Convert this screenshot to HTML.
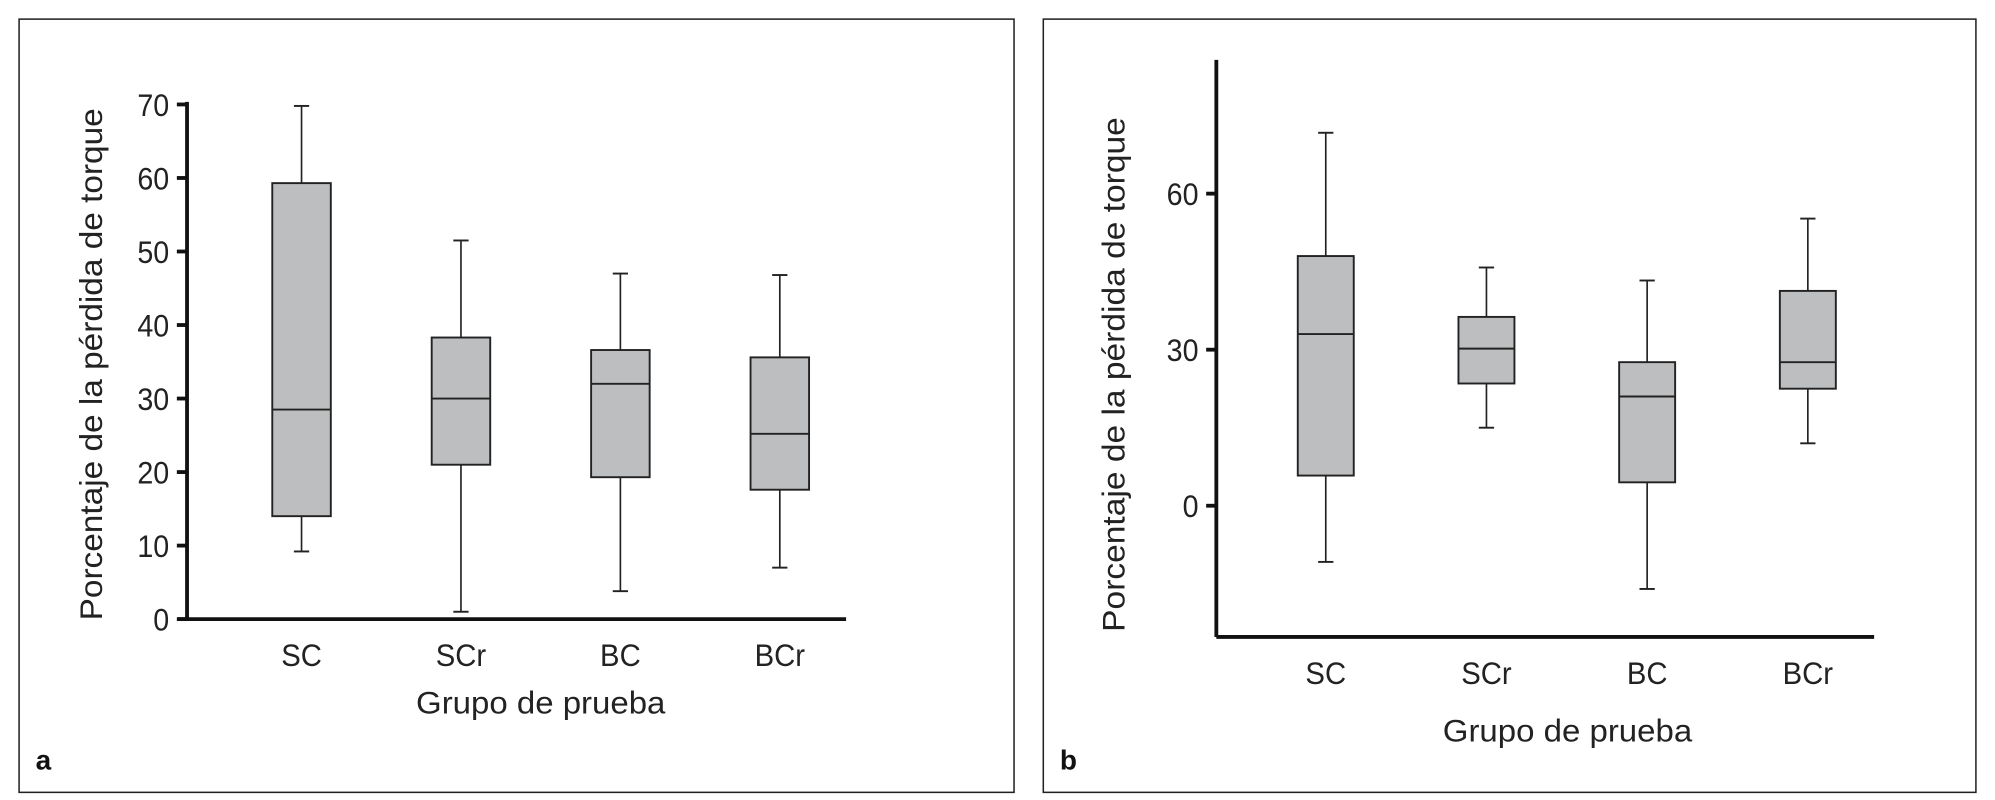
<!DOCTYPE html>
<html><head><meta charset="utf-8"><style>
html,body{margin:0;padding:0;background:#fff;}
svg{display:block;font-family:"Liberation Sans",sans-serif;}
</style></head><body>
<svg id="chart" width="1995" height="800" viewBox="0 0 1568 628" preserveAspectRatio="none" xmlns="http://www.w3.org/2000/svg">
<rect x="15" y="15" width="782" height="607" fill="#fff" stroke="#222" stroke-width="1.2"/>
<rect x="820" y="15" width="733" height="607" fill="#fff" stroke="#222" stroke-width="1.2"/>
<g id="ga"></g>
<g id="gb"></g>
</svg>
<script>
const categories = ["SC","SCr","BC","BCr"];
const aMin = [9.2, 1, 3.8, 7];
const aQ1 = [14, 21, 19.3, 17.6];
const aMed = [28.5, 30, 32, 25.2];
const aQ3 = [59.3, 38.3, 36.6, 35.6];
const aMax = [69.8, 51.5, 47, 46.8];
const aTicks = [0,10,20,30,40,50,60,70];
const bMin = [-10.8, 15, -16, 12];
const bQ1 = [5.8, 23.5, 4.5, 22.5];
const bMed = [33, 30.2, 21, 27.6];
const bQ3 = [48, 36.3, 27.6, 41.3];
const bMax = [71.7, 45.8, 43.3, 55.2];
const bTicks = [0,30,60];
const NS="http://www.w3.org/2000/svg";
function mk(parent,tag,attrs,text){const e=document.createElementNS(NS,tag);for(const k in attrs)e.setAttribute(k,attrs[k]);if(text!==undefined)e.textContent=text;parent.appendChild(e);return e;}
function drawPanel(g,cfg,mins,q1s,meds,q3s,maxs,ticks){
  const y=v=>cfg.y0-(v-cfg.v0)*cfg.k;
  const x=i=>cfg.cx0+i*cfg.step;
  let e=mk(g,'line',{x1:cfg.ax,y1:cfg.axTop,x2:cfg.ax,y2:cfg.axY,stroke:'#111','stroke-width':3});
  
  e=mk(g,'line',{x1:cfg.axL,y1:cfg.axY,x2:cfg.axR,y2:cfg.axY,stroke:'#111','stroke-width':3});
  
  ticks.forEach(t=>{
    let l=mk(g,'line',{x1:cfg.ax-8,y1:y(t),x2:cfg.ax,y2:y(t),stroke:'#111','stroke-width':3});
    
    let tx=mk(g,'text',{x:cfg.ax-14,y:y(t)+9,'text-anchor':'end','font-size':25,fill:'#222',transform:`translate(${cfg.ax-14},0) scale(0.9,1) translate(${-(cfg.ax-14)},0)`},String(t));
    
  });
  categories.forEach((c,i)=>{
    const cx=x(i),w=cfg.bw;
    let b=mk(g,'g',{});
    
    mk(b,'line',{x1:cx,y1:y(maxs[i]),x2:cx,y2:y(mins[i]),stroke:'#222','stroke-width':1.3});
    mk(b,'line',{x1:cx-6,y1:y(maxs[i]),x2:cx+6,y2:y(maxs[i]),stroke:'#222','stroke-width':1.5});
    mk(b,'line',{x1:cx-6,y1:y(mins[i]),x2:cx+6,y2:y(mins[i]),stroke:'#222','stroke-width':1.5});
    mk(b,'rect',{x:cx-w/2,y:y(q3s[i]),width:w,height:y(q1s[i])-y(q3s[i]),fill:'#bdbec0',stroke:'#222','stroke-width':1.5});
    mk(b,'line',{x1:cx-w/2,y1:y(meds[i]),x2:cx+w/2,y2:y(meds[i]),stroke:'#222','stroke-width':1.5});
    let t=mk(g,'text',{x:cx,y:cfg.catY,'text-anchor':'middle','font-size':25,fill:'#222',transform:`translate(${cx},0) scale(0.92,1) translate(${-cx},0)`},c);
    
  });
  let t=mk(g,'text',{x:cfg.xtX,y:cfg.titleY,'text-anchor':'middle','font-size':25,fill:'#222',textLength:196,lengthAdjust:'spacingAndGlyphs'},'Grupo de prueba');
  
  t=mk(g,'text',{x:0,y:0,'text-anchor':'middle','font-size':25,fill:'#222',textLength:cfg.ytLen,lengthAdjust:'spacingAndGlyphs',transform:`translate(${cfg.ytX},${cfg.ytY}) rotate(-90)`},'Porcentaje de la pérdida de torque');
  
  t=mk(g,'text',{x:cfg.lblX,y:604,'font-size':22,'font-weight':'bold',fill:'#111'},cfg.lbl);
  
}
drawPanel(document.getElementById('ga'),{y0:486,v0:0,k:404/70,cx0:237,step:125.3,bw:46,ax:147,axTop:80,axY:486,axL:140,axR:665,catY:523,titleY:560,xtX:425,ytX:80,ytY:286,ytLen:402,lblX:28,lbl:'a'},aMin,aQ1,aMed,aQ3,aMax,aTicks);
drawPanel(document.getElementById('gb'),{y0:397,v0:0,k:122.5/30,cx0:1042,step:126.3,bw:44,ax:956,axTop:47,axY:500,axL:956,axR:1473,catY:537,titleY:582,xtX:1232,ytX:884,ytY:294,ytLen:404,lblX:833,lbl:'b'},bMin,bQ1,bMed,bQ3,bMax,bTicks);
</script>
</body></html>
